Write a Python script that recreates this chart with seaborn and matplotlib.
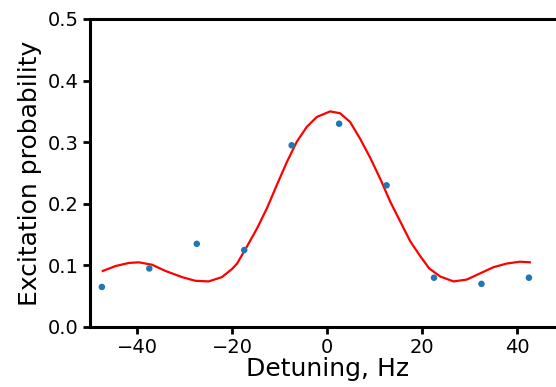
import matplotlib
matplotlib.use('Agg')
import matplotlib.pyplot as plt
import seaborn as sns

# Measured excitation probability vs detuning
detuning = [-47.5, -37.5, -27.5, -17.5, -7.5, 2.5, 12.5, 22.5, 32.5, 42.5]
probability = [0.065, 0.095, 0.135, 0.125, 0.295, 0.330, 0.230, 0.080, 0.070, 0.080]

# Fitted curve
fit_x = [-47.3, -44.6, -41.8, -39.7, -36.9, -34.1, -30.6, -27.8, -25.0, -22.2,
         -20.1, -19.0, -16.9, -14.8, -12.7, -10.6, -8.5, -6.4, -4.3, -2.2, 0.3,
         0.6, 2.7, 4.8, 6.9, 9.1, 11.2, 13.3, 15.4, 17.5, 19.6, 21.5, 23.8, 26.6,
         29.4, 32.2, 35.0, 37.8, 40.6, 42.7]
fit_y = [0.091, 0.099, 0.104, 0.105, 0.101, 0.091, 0.081, 0.075, 0.074, 0.081,
         0.094, 0.103, 0.131, 0.160, 0.193, 0.231, 0.268, 0.301, 0.325, 0.341,
         0.349, 0.350, 0.347, 0.333, 0.306, 0.274, 0.240, 0.203, 0.171, 0.139,
         0.115, 0.095, 0.082, 0.074, 0.077, 0.087, 0.097, 0.103, 0.106, 0.105]

fig = plt.figure(figsize=(5.56, 3.87), dpi=100)
# axes runs past the right edge of the image, as in the original
ax = fig.add_axes([90 / 556, 60 / 387, 474.5 / 556, 308 / 387])

sns.scatterplot(x=detuning, y=probability, ax=ax, s=22, color='#1f77b4',
                edgecolor='none', zorder=3)
sns.lineplot(x=fit_x, y=fit_y, ax=ax, color='red', linewidth=1.6, zorder=2)

ax.set_xlim(-50, 50)
ax.set_ylim(0, 0.5)
ax.set_xticks([-40, -20, 0, 20, 40])
ax.set_yticks([0.0, 0.1, 0.2, 0.3, 0.4, 0.5])
ax.set_xlabel('Detuning, Hz', fontsize=18, labelpad=0)
ax.set_ylabel('Excitation probability', fontsize=18, labelpad=4)
ax.tick_params(labelsize=14, width=2, length=5, pad=3)
for s in ax.spines.values():
    s.set_linewidth(2.2)

fig.savefig('out.png', dpi=100)
